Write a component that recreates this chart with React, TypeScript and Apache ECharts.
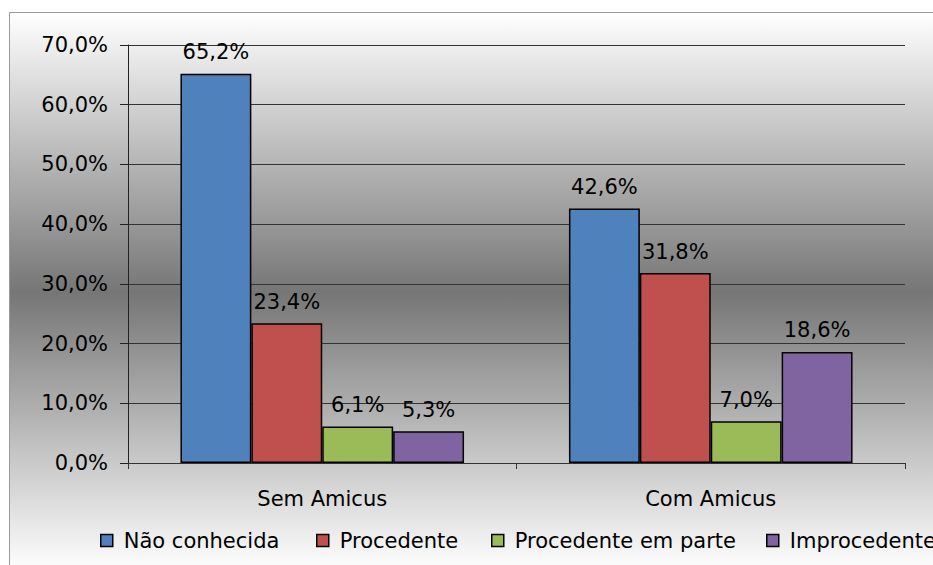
import React, { useEffect, useRef } from "react";
import * as echarts from "echarts";

const categories = ["Sem Amicus", "Com Amicus"];
const seriesNames = ["Não conhecida", "Procedente", "Procedente em parte", "Improcedente"];
const naoConhecida = [65.2, 42.6];
const procedente = [23.4, 31.8];
const procedenteEmParte = [6.1, 7.0];
const improcedente = [5.3, 18.6];
const colors = ["#4F81BD", "#C0504D", "#9BBB59", "#8064A2"];
const legendLefts = [100, 316, 491, 766];

const FONT = "DejaVu Sans";
const FS = 21;

export default function App() {
  const ref = useRef<HTMLDivElement>(null);
  useEffect(() => {
    document.body.style.margin = "0";
    const chart = echarts.init(ref.current!, null, { renderer: "svg" });
    const values = [naoConhecida, procedente, procedenteEmParte, improcedente];
    const fmt = (v: number) => v.toFixed(1).replace(".", ",") + "%";
    chart.setOption({
      animation: false,
      textStyle: { fontFamily: FONT },
      graphic: [
        {
          type: "rect",
          z: -10,
          silent: true,
          shape: { x: 9.5, y: 12.5, width: 940, height: 560 },
          style: {
            fill: new echarts.graphic.LinearGradient(0, 0, 0, 1, [
              { offset: 0, color: "#ffffff" },
              { offset: 0.5, color: "#767676" },
              { offset: 1, color: "#ffffff" },
            ]),
            stroke: "#9a9a9a",
            lineWidth: 1,
          },
        },
      ],
      grid: { left: 128, right: 28, top: 45, bottom: 102, containLabel: false },
      legend: seriesNames.map((n, i) => ({
        data: [n],
        left: legendLefts[i],
        top: 530,
        padding: 0,
        icon: "rect",
        itemWidth: 12,
        itemHeight: 12,
        itemStyle: { borderColor: "#000", borderWidth: 1.5 },
        textStyle: { fontFamily: FONT, fontSize: FS, color: "#000", padding: [0, 0, 0, 6] },
        selectedMode: false,
      })),
      xAxis: {
        type: "category",
        data: categories,
        axisLine: { lineStyle: { color: "#333", width: 1 } },
        axisTick: { show: true, length: 6, lineStyle: { color: "#333" } },
        axisLabel: { fontFamily: FONT, fontSize: FS, color: "#000", margin: 25 },
      },
      yAxis: {
        type: "value",
        min: 0,
        max: 70,
        interval: 10,
        axisLine: { show: true, lineStyle: { color: "#222", width: 1 } },
        axisTick: { show: true, length: 8, lineStyle: { color: "#222" } },
        axisLabel: { fontFamily: FONT, fontSize: FS, color: "#000", margin: 20, formatter: fmt },
        splitLine: { show: true, lineStyle: { color: "#333", width: 1 } },
      },
      series: seriesNames.map((n, i) => ({
        name: n,
        type: "bar",
        data: values[i],
        barGap: "0%",
        barCategoryGap: "27%",
        itemStyle: { color: colors[i], borderColor: "#000", borderWidth: 1.5 },
        label: {
          show: true,
          position: "top",
          distance: 11,
          fontFamily: FONT,
          fontSize: FS,
          color: "#000",
          formatter: (p: any) => fmt(p.value),
        },
      })),
    });
    return () => chart.dispose();
  }, []);
  return <div ref={ref} style={{ width: 933, height: 565 }} />;
}
